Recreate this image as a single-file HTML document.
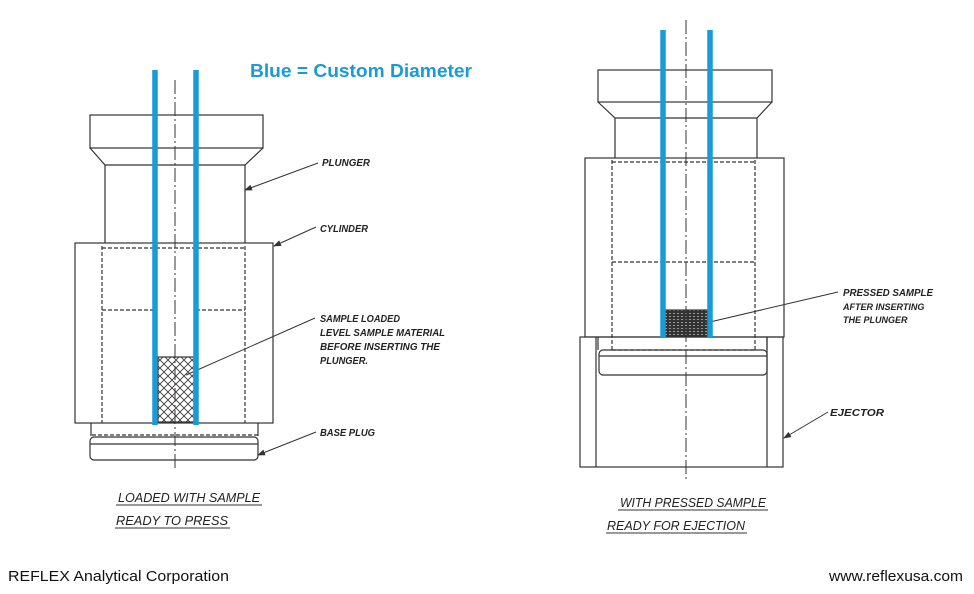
<!DOCTYPE html>
<html><head><meta charset="utf-8"><style>
html,body{margin:0;padding:0;background:#fff;}
svg{display:block;}
.l{font-family:"Liberation Sans",sans-serif;font-style:italic;font-weight:bold;font-size:10px;fill:#222;}
.c{font-family:"Liberation Sans",sans-serif;font-style:italic;font-size:13px;fill:#222;}
</style></head><body>
<svg width="974" height="594" viewBox="0 0 974 594" xmlns="http://www.w3.org/2000/svg">
<defs>
<pattern id="hx" width="8" height="8" patternUnits="userSpaceOnUse">
<path d="M0 0L8 8M8 0L0 8" stroke="#333" stroke-width="0.8"/>
</pattern>
<pattern id="dk" width="4" height="3" patternUnits="userSpaceOnUse">
<rect width="4" height="3" fill="#333"/><rect x="1" y="1" width="2" height="1" fill="#999"/>
</pattern>
<marker id="ar" markerWidth="8" markerHeight="6" refX="7" refY="3" orient="auto"><path d="M0 0L8 3L0 6z" fill="#333"/></marker>
</defs>
<g stroke="#333" stroke-width="1.2" fill="none">
<rect x="90" y="115" width="173" height="33"/>
<path d="M90 148 L105 165 L245 165 L263 148"/>
<path d="M105 165 V243 M245 165 V243"/>
<rect x="75" y="243" width="198" height="180"/>
<g stroke-dasharray="4 2"><path d="M102 246 V423 M245 246 V423 M102 248 H245 M102 310 H155 M196 310 H245 M92 435 H258"/></g>
<path d="M91 423 V436 M258 423 V436"/>
<rect x="90" y="437" width="168" height="23" rx="4"/>
<path d="M90 444 H258"/>
<rect x="158" y="357" width="37" height="65" fill="url(#hx)"/>
<path d="M175 80 V470" stroke-dasharray="14 3 2 3" stroke-width="1"/>
<rect x="598" y="70" width="174" height="32"/>
<path d="M598 102 L615 118 L757 118 L772 102"/>
<path d="M615 118 V158 M757 118 V158"/>
<rect x="585" y="158" width="199" height="179"/>
<g stroke-dasharray="4 2"><path d="M612 160 V350 M755 160 V350 M612 162 H755 M612 262 H755 M612 350 H755"/></g>
<rect x="580" y="337" width="203" height="130"/>
<path d="M596 337 V467 M767 337 V467"/>
<path d="M598 337 V350 M767 337 V350"/>
<rect x="599" y="350" width="168" height="25" rx="4"/>
<path d="M599 356 H767"/>
<rect x="665" y="310" width="44" height="26" fill="url(#dk)"/>
<path d="M686 20 V480" stroke-dasharray="14 3 2 3" stroke-width="1"/>
<g stroke-width="1">
<path d="M318 163 L245 190" marker-end="url(#ar)"/>
<path d="M316 227 L274 246" marker-end="url(#ar)"/>
<path d="M315 318 L186 375"/>
<path d="M316 432 L258 455" marker-end="url(#ar)"/>
<path d="M838 292 L697 325"/>
<path d="M828 412 L784 438" marker-end="url(#ar)"/>
</g>
<path d="M116 505 H262 M115 528 H230 M618 510 H768 M606 533 H747" stroke-width="1"/>
</g>
<g stroke="#1a9ad6" stroke-width="5.5">
<path d="M155 70 V425 M196 70 V425 M663 30 V338 M710 30 V338"/>
</g>
<text x="250" y="77" font-family="Liberation Sans,sans-serif" font-weight="bold" font-size="18" fill="#1a9ad6" textLength="222" lengthAdjust="spacingAndGlyphs">Blue = Custom Diameter</text>
<text class="l" x="322" y="166" textLength="48" lengthAdjust="spacingAndGlyphs">PLUNGER</text>
<text class="l" x="320" y="232" textLength="48" lengthAdjust="spacingAndGlyphs">CYLINDER</text>
<text class="l" x="320" y="322" textLength="80" lengthAdjust="spacingAndGlyphs">SAMPLE LOADED</text>
<text class="l" x="320" y="336" textLength="125" lengthAdjust="spacingAndGlyphs">LEVEL SAMPLE MATERIAL</text>
<text class="l" x="320" y="350" textLength="120" lengthAdjust="spacingAndGlyphs">BEFORE INSERTING THE</text>
<text class="l" x="320" y="364" textLength="48" lengthAdjust="spacingAndGlyphs">PLUNGER.</text>
<text class="l" x="320" y="436" textLength="55" lengthAdjust="spacingAndGlyphs">BASE PLUG</text>
<text class="l" x="843" y="296" textLength="90" lengthAdjust="spacingAndGlyphs">PRESSED SAMPLE</text>
<text class="l" x="843" y="310" style="font-size:9px">AFTER INSERTING</text>
<text class="l" x="843" y="323" style="font-size:9px">THE PLUNGER</text>
<text class="l" x="830" y="416" textLength="54" lengthAdjust="spacingAndGlyphs">EJECTOR</text>
<text class="c" x="118" y="502" textLength="142" lengthAdjust="spacingAndGlyphs">LOADED WITH SAMPLE</text>
<text class="c" x="116" y="525" textLength="112" lengthAdjust="spacingAndGlyphs">READY TO PRESS</text>
<text class="c" x="620" y="507" textLength="146" lengthAdjust="spacingAndGlyphs">WITH PRESSED SAMPLE</text>
<text class="c" x="607" y="530" textLength="138" lengthAdjust="spacingAndGlyphs">READY FOR EJECTION</text>
<text x="8" y="581" font-family="Liberation Sans,sans-serif" font-size="15" fill="#111" textLength="221" lengthAdjust="spacingAndGlyphs">REFLEX Analytical Corporation</text>
<text x="829" y="581" font-family="Liberation Sans,sans-serif" font-size="15" fill="#111" textLength="134" lengthAdjust="spacingAndGlyphs">www.reflexusa.com</text>
</svg>
</body></html>
